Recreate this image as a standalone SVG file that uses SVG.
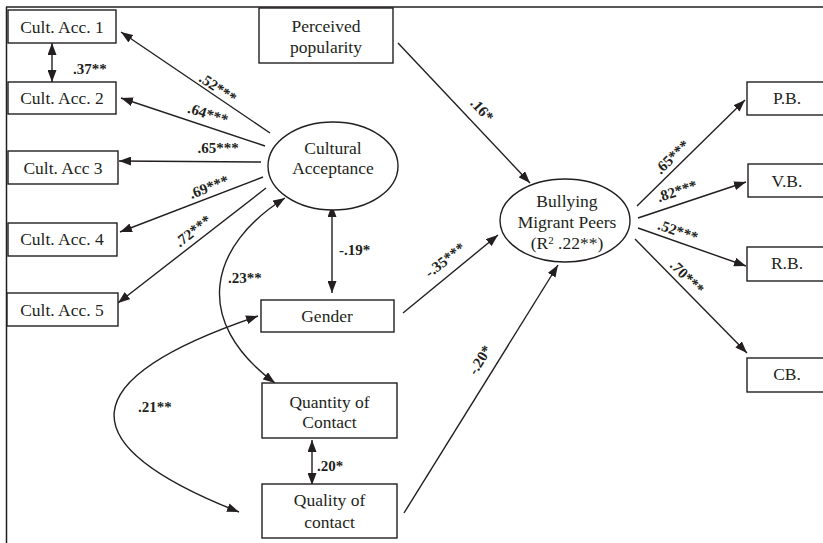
<svg xmlns="http://www.w3.org/2000/svg" width="823" height="543" viewBox="0 0 823 543">
<style>
  .bx { fill: #fff; stroke: #231f20; stroke-width: 1.4; }
  .el { fill: #fff; stroke: #231f20; stroke-width: 1.4; }
  .t { font-family: "Liberation Serif", "Times New Roman", serif; font-size: 17.5px; fill: #231f20; text-anchor: middle; }
  .c { font-family: "Liberation Serif", "Times New Roman", serif; font-size: 15px; font-weight: bold; fill: #231f20; }
  .cm { text-anchor: middle; }
  .ln { fill: none; stroke: #231f20; stroke-width: 1.4; }
  .a { marker-end: url(#ah); }
  .b { marker-start: url(#ah); marker-end: url(#ah); }
</style>
<defs>
  <marker id="ah" viewBox="0 0 12 9" refX="12" refY="4.5" markerWidth="12" markerHeight="9" markerUnits="userSpaceOnUse" orient="auto-start-reverse">
    <path d="M0,0 L12,4.5 L0,9 z" fill="#231f20"/>
  </marker>
</defs>
<rect width="823" height="543" fill="#fff"/>
<g id="frame">
  <line x1="6.5" y1="7" x2="6.5" y2="543" stroke="#231f20" stroke-width="1.5"/>
  <line x1="6" y1="7" x2="823" y2="7" stroke="#231f20" stroke-width="1.5"/>
</g>
<g id="connectors">
  <line class="ln a" x1="270" y1="133" x2="121" y2="32"/>
  <line class="ln a" x1="265" y1="146" x2="121" y2="98"/>
  <line class="ln a" x1="261" y1="162" x2="119" y2="161"/>
  <line class="ln a" x1="263" y1="177" x2="120" y2="232"/>
  <line class="ln a" x1="266" y1="188" x2="118" y2="303"/>
  <line class="ln b" x1="52" y1="43" x2="52" y2="82"/>
  <line class="ln b" x1="332" y1="205" x2="332" y2="293"/>
  <path class="ln b" d="M285,198 C210,245 190,320 275,383"/>
  <path class="ln b" d="M258,316 Q-20,410 239,512"/>
  <line class="ln b" x1="312" y1="440" x2="312" y2="485"/>
  <line class="ln a" x1="398" y1="43" x2="530" y2="183"/>
  <line class="ln a" x1="403" y1="313" x2="498" y2="235"/>
  <line class="ln a" x1="404" y1="513" x2="558" y2="265"/>
  <line class="ln a" x1="637" y1="206" x2="745" y2="100"/>
  <line class="ln a" x1="638" y1="218" x2="746" y2="182"/>
  <line class="ln a" x1="638" y1="228" x2="746" y2="266"/>
  <line class="ln a" x1="635" y1="239" x2="747" y2="353"/>
  <g id="labels">
    <text class="c cm" transform="translate(218,88) rotate(34)" y="5">.52***</text>
    <text class="c cm" transform="translate(208,114) rotate(18)" y="5">.64***</text>
    <text class="c cm" x="218" y="153">.65***</text>
    <text class="c cm" transform="translate(209,187) rotate(-21)" y="5">.69***</text>
    <text class="c cm" transform="translate(193,231) rotate(-38)" y="5">.72***</text>
    <text class="c" x="73" y="74">.37**</text>
    <text class="c" x="339" y="255">-.19*</text>
    <text class="c" x="228" y="283">.23**</text>
    <text class="c" x="138" y="412">.21**</text>
    <text class="c" x="317" y="471">.20*</text>
    <text class="c cm" transform="translate(482,110) rotate(47)" y="5">.16*</text>
    <text class="c cm" transform="translate(445,260) rotate(-38)" y="5">-.35***</text>
    <text class="c cm" transform="translate(480,360) rotate(-58)" y="5">-.20*</text>
    <text class="c cm" transform="translate(672,157) rotate(-44)" y="5">.65***</text>
    <text class="c cm" transform="translate(677,191) rotate(-18)" y="5">.82***</text>
    <text class="c cm" transform="translate(678,231) rotate(19)" y="5">.52***</text>
    <text class="c cm" transform="translate(687,277) rotate(45)" y="5">.70***</text>
  </g>
</g>
<g id="ca1"><rect class="bx" x="8" y="10" width="108" height="33"/><text class="t" x="62" y="33">Cult. Acc. 1</text></g>
<g id="ca2"><rect class="bx" x="8" y="82" width="108" height="32"/><text class="t" x="62" y="104">Cult. Acc. 2</text></g>
<g id="ca3"><rect class="bx" x="8" y="151" width="110" height="33"/><text class="t" x="63" y="174">Cult. Acc 3</text></g>
<g id="ca4"><rect class="bx" x="8" y="223" width="109" height="33"/><text class="t" x="62" y="245">Cult. Acc. 4</text></g>
<g id="ca5"><rect class="bx" x="7" y="293" width="111" height="33"/><text class="t" x="62" y="316">Cult. Acc. 5</text></g>
<g id="popularity"><rect class="bx" x="259" y="8" width="134" height="55"/><text class="t" x="326" y="32">Perceived</text><text class="t" x="326" y="53">popularity</text></g>
<g id="cultural"><ellipse class="el" cx="333" cy="166" rx="65" ry="44"/><text class="t" x="333" y="154">Cultural</text><text class="t" x="333" y="174">Acceptance</text></g>
<g id="gender"><rect class="bx" x="261" y="300" width="133" height="32"/><text class="t" x="327" y="322">Gender</text></g>
<g id="quantity"><rect class="bx" x="262" y="383" width="135" height="55"/><text class="t" x="329.5" y="408">Quantity of</text><text class="t" x="329.5" y="428">Contact</text></g>
<g id="quality"><rect class="bx" x="262" y="484" width="135" height="54"/><text class="t" x="329.5" y="506">Quality of</text><text class="t" x="329.5" y="528">contact</text></g>
<g id="bullying"><ellipse class="el" cx="565" cy="220.5" rx="65" ry="41.5"/><text class="t" x="567" y="207">Bullying</text><text class="t" x="567" y="227.5">Migrant Peers</text><text class="t" x="567" y="249">(R<tspan font-size="11" dy="-5">2</tspan><tspan dy="5">  .22**)</tspan></text></g>
<g id="pb"><rect class="bx" x="747" y="82" width="90" height="33"/><text class="t" x="787" y="104">P.B.</text></g>
<g id="vb"><rect class="bx" x="748" y="164" width="90" height="33"/><text class="t" x="787" y="187">V.B.</text></g>
<g id="rb"><rect class="bx" x="747" y="247" width="90" height="34"/><text class="t" x="787" y="269">R.B.</text></g>
<g id="cb"><rect class="bx" x="747" y="358" width="90" height="34"/><text class="t" x="787" y="380">CB.</text></g>
</svg>
